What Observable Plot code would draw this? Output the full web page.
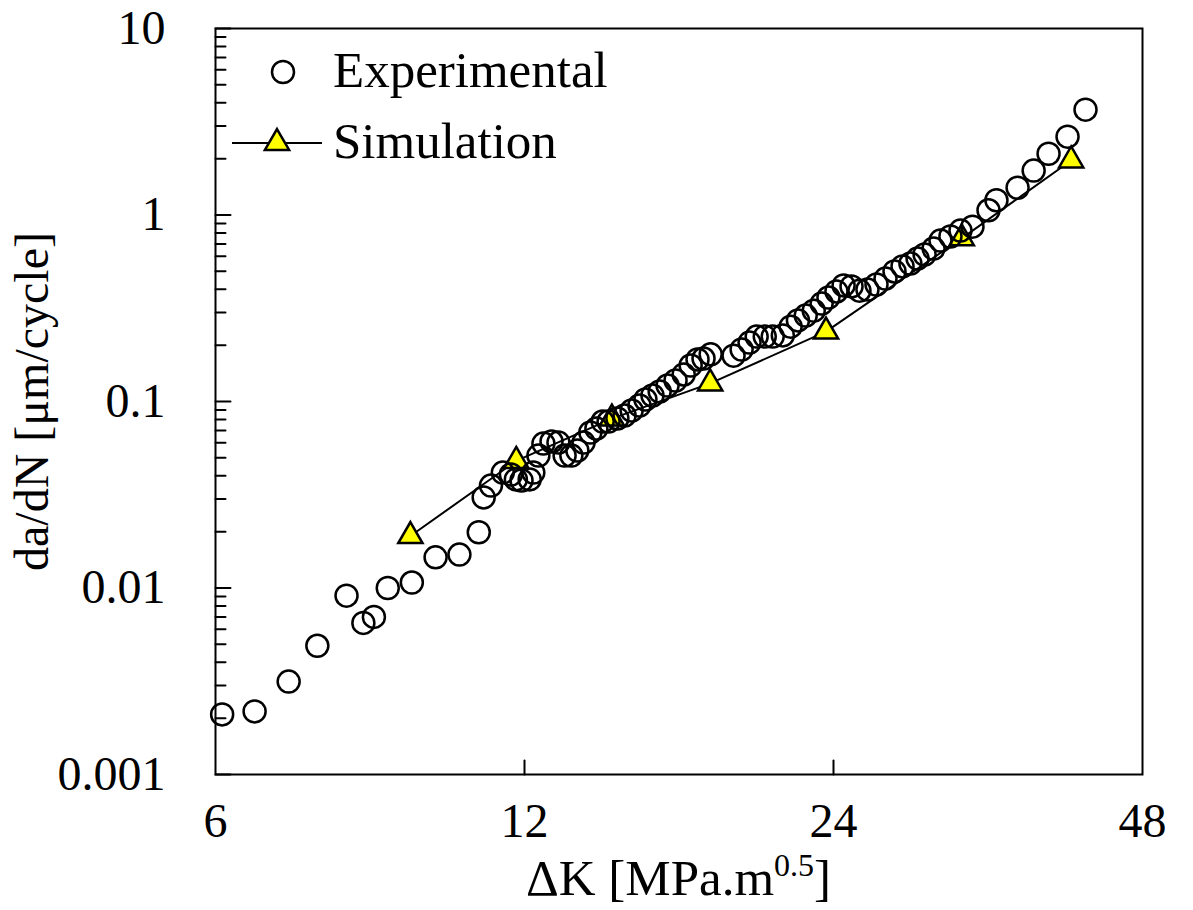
<!DOCTYPE html>
<html><head><meta charset="utf-8">
<script src="https://cdn.jsdelivr.net/npm/d3@7"></script>
<script src="https://cdn.jsdelivr.net/npm/@observablehq/plot@0.6"></script>
<style>
body{margin:0;background:#fff;}
#wrap{position:relative;width:1193px;height:910px;font-family:"Liberation Serif","Times New Roman",serif;color:#000;}
#xlabel{position:absolute;left:215px;width:927px;top:853px;text-align:center;font-size:51px;line-height:51px;white-space:nowrap;}
#xlabel sup{font-size:32px;vertical-align:0;position:relative;top:-19px;}
#legend{position:absolute;left:0;top:0;}
</style></head><body><div id="wrap"></div>
<script>
// Experimental data: ΔK [MPa.m^0.5] and da/dN [µm/cycle]
const expDK = [6.09,6.55,7.07,7.54,8.05,8.36,8.56,8.83,9.32,9.83,10.37,10.83,10.95,11.13,11.43,11.64,11.77,11.92,12.14,12.24,12.38,12.52,12.75,12.95,13.13,13.33,13.51,13.70,13.91,14.10,14.30,14.49,14.78,15.02,15.26,15.53,15.74,15.99,16.25,16.54,16.84,17.15,17.42,17.69,17.93,18.22,19.18,19.53,19.88,20.20,20.57,20.94,21.42,21.80,22.16,22.55,22.96,23.37,23.73,24.16,24.55,24.99,25.44,25.90,26.43,26.97,27.52,28.02,28.52,28.98,29.44,30.04,30.51,31.2,31.91,32.78,33.98,34.59,36.27,37.6,38.88,40.57,42.24];
const expRate = [0.0021,0.00218,0.00315,0.0049,0.0091,0.0065,0.0070,0.0100,0.0107,0.0146,0.0151,0.0199,0.0306,0.0354,0.0416,0.0406,0.0382,0.0377,0.0382,0.0416,0.0513,0.0595,0.0610,0.0602,0.0513,0.0513,0.0546,0.0602,0.0682,0.0716,0.0781,0.0781,0.0811,0.0841,0.0895,0.0952,0.1025,0.1077,0.1131,0.1218,0.1296,0.1396,0.156,0.168,0.170,0.179,0.176,0.190,0.207,0.223,0.223,0.223,0.226,0.252,0.272,0.289,0.307,0.335,0.361,0.389,0.419,0.414,0.393,0.398,0.424,0.456,0.498,0.530,0.549,0.584,0.614,0.661,0.729,0.767,0.825,0.866,1.06,1.20,1.40,1.73,2.13,2.63,3.67];
// Simulation data
const simDK = [9.29,11.78,14.6,18.2,23.6,32.0,40.9];
const simRate = [0.019,0.048,0.081,0.125,0.237,0.75,1.96];
// Ticks
const xTicks = [6,12,24,48];
const xInnerTicks = [12,24];
const yTicks = [0.001,0.01,0.1,1,10];
const yMinorTicks = [];
for (const base of [0.001,0.01,0.1,1]) for (let m = 2; m <= 9; m++) yMinorTicks.push(+(base*m).toPrecision(3));
const seriesNames = ["Experimental","Simulation"];

const expData = expDK.map((dk,i)=>({dk, rate: expRate[i]}));
const simData = simDK.map((dk,i)=>({dk, rate: simRate[i]}));

// straight tick shape for inward ticks
const tickShape = {draw(context, l) { context.moveTo(0, 0); context.lineTo(0, -l); }};

const chart = Plot.plot({
  width: 1193, height: 850,
  marginLeft: 215, marginRight: 51, marginTop: 28, marginBottom: 76,
  style: {fontFamily: "'Liberation Serif','Times New Roman',serif", fontSize: "48px", color: "black", background: "white"},
  x: {type: "log", domain: [6,48]},
  y: {type: "log", domain: [0.001,10]},
  marks: [
    Plot.axisX(xTicks, {tickSize: 0, tickPadding: 28, tickFormat: d => String(d), label: null}),
    Plot.axisY(yTicks, {tickSize: 0, tickPadding: 50, tickFormat: d => String(d),
      label: "da/dN [μm/cycle]", labelAnchor: "center", labelArrow: "none", labelOffset: 202}),
    // inward tick marks
    Plot.vector(xInnerTicks, {x: d => d, frameAnchor: "bottom", length: 14, rotate: 0, anchor: "start", shape: tickShape, stroke: "black", strokeWidth: 2}),
    Plot.vector(yTicks, {y: d => d, frameAnchor: "left", length: 15, rotate: 90, anchor: "start", shape: tickShape, stroke: "black", strokeWidth: 2}),
    Plot.vector(yMinorTicks, {y: d => d, frameAnchor: "left", length: 10, rotate: 90, anchor: "start", shape: tickShape, stroke: "black", strokeWidth: 2}),
    Plot.frame({stroke: "black", strokeWidth: 2}),
    Plot.line(simData, {x: "dk", y: "rate", stroke: "black", strokeWidth: 2}),
    Plot.dot(simData, {x: "dk", y: "rate", symbol: "triangle", r: 9, fill: "#ffff00", stroke: "black", strokeWidth: 2.5}),
    Plot.dot(expData, {x: "dk", y: "rate", r: 11, fill: "none", stroke: "black", strokeWidth: 2.5})
  ]
});
const wrap = document.getElementById("wrap");
wrap.appendChild(chart);

const xl = document.createElement("div");
xl.id = "xlabel";
xl.innerHTML = "ΔK [MPa.m<sup>0.5</sup>]";
wrap.appendChild(xl);

// Legend
const ns = "http://www.w3.org/2000/svg";
const lg = document.createElementNS(ns, "svg");
lg.setAttribute("id","legend");
lg.setAttribute("width","650"); lg.setAttribute("height","200");
lg.innerHTML = `
  <circle cx="283" cy="72" r="11" fill="none" stroke="black" stroke-width="2.5"/>
  <text x="333" y="87" font-size="51" font-family="Liberation Serif, Times New Roman, serif">${seriesNames[0]}</text>
  <line x1="232" x2="322" y1="143" y2="143" stroke="black" stroke-width="2"/>
  <path d="${d3.symbol(d3.symbolTriangle, Math.PI*81)()}" transform="translate(277,143)" fill="#ffff00" stroke="black" stroke-width="2.5"/>
  <text x="333" y="158" font-size="51" font-family="Liberation Serif, Times New Roman, serif">${seriesNames[1]}</text>`;
wrap.appendChild(lg);
</script></body></html>
